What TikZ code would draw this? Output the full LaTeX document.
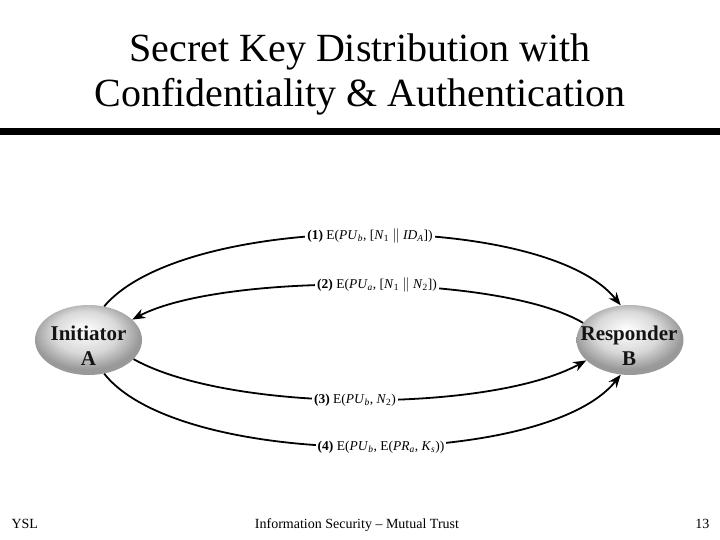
\documentclass[tikz,border=0pt]{standalone}
\usepackage{fontspec}
\setmainfont{Liberation Serif}
\usetikzlibrary{arrows.meta,shapes.geometric}
\pgfdeclareradialshading{ellshade}{\pgfpoint{-2bp}{8bp}}{color(0bp)=(white); color(3bp)=(white!97!black); color(15bp)=(black!15); color(25bp)=(black!40); color(50bp)=(black!40)}
\tikzset{
  party/.style={ellipse, shading=ellshade, minimum width=107pt, minimum height=70pt, inner sep=0pt},
  partytext/.style={align=center, font=\fontsize{21}{25}\selectfont\bfseries, text=black!92, anchor=base},
  msg/.style={line width=1.8pt, -{Stealth[length=13pt,width=10pt]}},
  msglabel/.style={fill=white, inner sep=2pt, font=\fontsize{13.5}{15}\selectfont},
  title/.style={font=\fontsize{40}{45}\selectfont, align=center},
  foot/.style={font=\fontsize{14}{16}\selectfont}
}
\begin{document}
\begin{tikzpicture}[x=1pt,y=-1pt]
\useasboundingbox (0,0) rectangle (720,540);
\node[title, anchor=base] (t1) at (360,62) {Secret Key Distribution with};
\node[title, anchor=base] (t2) at (360,107) {Confidentiality \& Authentication};
\fill[black] (0,128) rectangle (720,135);

\node[party] (A) at (88.5,340) {};
\node[party] (B) at (630,340) {};
\node[partytext] (At) at (88.5,365) {Initiator\\A};
\node[partytext] (Bt) at (629,365) {Responder\\B};

\draw[msg] (A.65) .. controls (185,211) and (545,211) .. (B.105);
\draw[msg] (B.160) .. controls (500,273) and (220,273) .. (A.25);
\draw[msg] (A.-23) .. controls (230,413) and (490,413) .. (B.205);
\draw[msg] (A.-65) .. controls (180,470) and (545,470) .. (B.255);

\node[msglabel] (l1) at (370,236) {\textbf{(1)} E(\textit{PU}\textsubscript{\textit{b}}, [\textit{N}\textsubscript{1} $\Vert$ \textit{ID}\textsubscript{\textit{A}}])};
\node[msglabel] (l2) at (377,285) {\textbf{(2)} E(\textit{PU}\textsubscript{\textit{a}}, [\textit{N}\textsubscript{1} $\Vert$ \textit{N}\textsubscript{2}])};
\node[msglabel] (l3) at (355,400) {\textbf{(3)} E(\textit{PU}\textsubscript{\textit{b}}, \textit{N}\textsubscript{2})};
\node[msglabel] (l4) at (381,447) {\textbf{(4)} E(\textit{PU}\textsubscript{\textit{b}}, E(\textit{PR}\textsubscript{\textit{a}}, \textit{K}\textsubscript{\textit{s}}))};

\node[foot, anchor=base west] (f1) at (8,528) {YSL};
\node[foot, anchor=base] (f2) at (357,528) {Information Security -- Mutual Trust};
\node[foot, anchor=base east] (f3) at (713,528) {13};
\end{tikzpicture}
\end{document}
